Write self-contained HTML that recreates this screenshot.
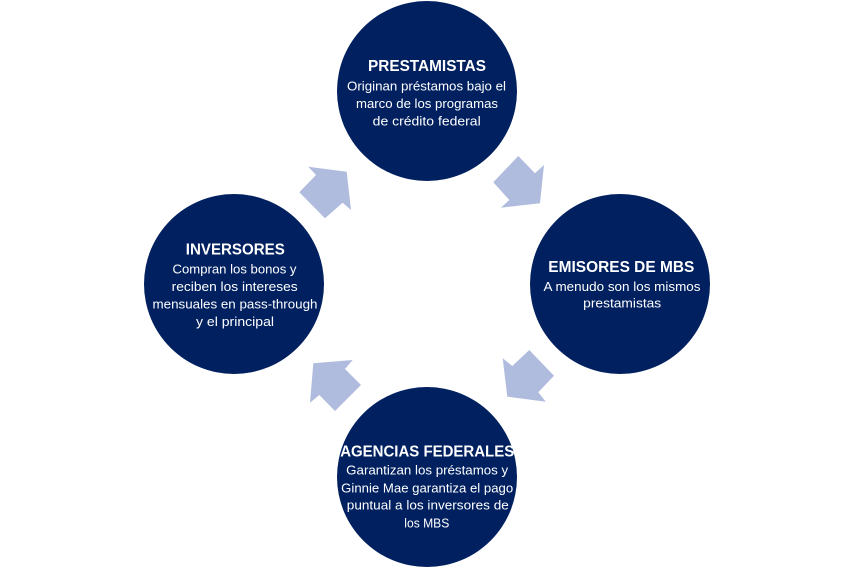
<!DOCTYPE html>
<html>
<head>
<meta charset="utf-8">
<style>
  html, body { margin: 0; padding: 0; background: #ffffff; }
  svg { display: block; }
  text { font-family: "Liberation Sans", Arial, sans-serif; fill: #ffffff; }
  .t { font-size: 16px; font-weight: bold; }
  .b { font-size: 13px; }
</style>
</head>
<body>
<svg width="854" height="569" viewBox="0 0 854 569" xmlns="http://www.w3.org/2000/svg">
  <rect width="854" height="569" fill="#ffffff"/>

  <!-- arrows -->
  <g fill="#b0bcde">
    <polygon points="518.3,156 493.3,182.3 509.3,200 501,207.7 540,203.3 544,165 535,173.3"/>
    <polygon points="308.3,166.7 346.7,171.7 351,210 342.7,202.7 325,218.3 299.3,192.3 316,175"/>
    <polygon points="529.3,350 554,375.7 538.3,392.3 545.7,401.7 507.3,396.7 502.7,358.3 512.3,366"/>
    <polygon points="313.3,363.3 352.7,360 345,369 361,385 335,411 319.3,395 310,402.7"/>
  </g>

  <!-- circles -->
  <g fill="#002060">
    <circle cx="427" cy="91" r="90"/>
    <circle cx="620" cy="284" r="90"/>
    <circle cx="427" cy="477" r="90"/>
    <circle cx="234" cy="284" r="90"/>
  </g>

  <!-- top -->
  <text class="t" x="427" y="71" text-anchor="middle" textLength="118" lengthAdjust="spacingAndGlyphs">PRESTAMISTAS</text>
  <text class="b" x="426.5" y="90.5" text-anchor="middle" textLength="159" lengthAdjust="spacingAndGlyphs">Originan préstamos bajo el</text>
  <text class="b" x="427" y="108" text-anchor="middle" textLength="142" lengthAdjust="spacingAndGlyphs">marco de los programas</text>
  <text class="b" x="426.7" y="125.5" text-anchor="middle" textLength="108" lengthAdjust="spacingAndGlyphs">de crédito federal</text>

  <!-- right -->
  <text class="t" x="621.3" y="272" text-anchor="middle" textLength="146" lengthAdjust="spacingAndGlyphs">EMISORES DE MBS</text>
  <text class="b" x="622" y="291" text-anchor="middle" textLength="157" lengthAdjust="spacingAndGlyphs">A menudo son los mismos</text>
  <text class="b" x="622.2" y="307.5" text-anchor="middle" textLength="78" lengthAdjust="spacingAndGlyphs">prestamistas</text>

  <!-- left -->
  <text class="t" x="235.3" y="254.5" text-anchor="middle" textLength="99" lengthAdjust="spacingAndGlyphs">INVERSORES</text>
  <text class="b" x="234.5" y="273.5" text-anchor="middle" textLength="124" lengthAdjust="spacingAndGlyphs">Compran los bonos y</text>
  <text class="b" x="234.7" y="291" text-anchor="middle" textLength="126" lengthAdjust="spacingAndGlyphs">reciben los intereses</text>
  <text class="b" x="235" y="308.5" text-anchor="middle" textLength="165" lengthAdjust="spacingAndGlyphs">mensuales en pass-through</text>
  <text class="b" x="235" y="326" text-anchor="middle" textLength="78" lengthAdjust="spacingAndGlyphs">y el principal</text>

  <!-- bottom -->
  <text class="t" x="427.2" y="456.5" text-anchor="middle" textLength="174" lengthAdjust="spacingAndGlyphs">AGENCIAS FEDERALES</text>
  <text class="b" x="427.2" y="474.5" text-anchor="middle" textLength="162" lengthAdjust="spacingAndGlyphs">Garantizan los préstamos y</text>
  <text class="b" x="427.2" y="492.3" text-anchor="middle" textLength="172" lengthAdjust="spacingAndGlyphs">Ginnie Mae garantiza el pago</text>
  <text class="b" x="427.8" y="509.5" text-anchor="middle" textLength="162" lengthAdjust="spacingAndGlyphs">puntual a los inversores de</text>
  <text class="b" x="426.8" y="527.5" text-anchor="middle" textLength="45" lengthAdjust="spacingAndGlyphs">los MBS</text>
</svg>
</body>
</html>
